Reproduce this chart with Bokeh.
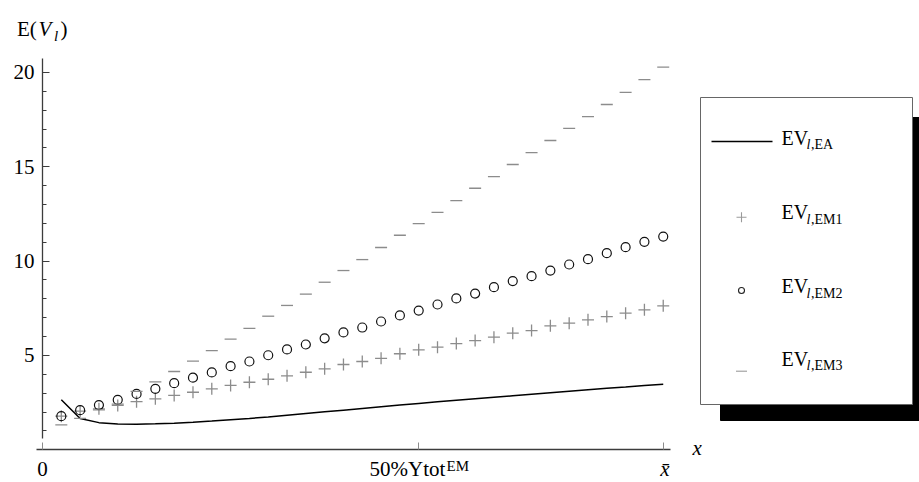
from bokeh.plotting import figure
from bokeh.models import Range1d, LinearAxis, FixedTicker, Label
from bokeh.embed import file_html
from bokeh.resources import INLINE

# ---------------- data ----------------
k = list(range(1, 34))
ev_ea = [2.65, 1.66, 1.44, 1.37, 1.36, 1.38, 1.41, 1.46, 1.52, 1.59, 1.66, 1.74,
         1.83, 1.92, 2.01, 2.10, 2.19, 2.28, 2.37, 2.46, 2.54, 2.62, 2.70, 2.78,
         2.86, 2.94, 3.02, 3.10, 3.18, 3.26, 3.33, 3.41, 3.48]
ev_em1 = [1.78, 2.05, 2.17, 2.35, 2.55, 2.70, 2.88, 3.05, 3.23, 3.41, 3.58, 3.74,
          3.92, 4.11, 4.29, 4.52, 4.68, 4.85, 5.09, 5.30, 5.44, 5.63, 5.79, 5.97,
          6.18, 6.32, 6.57, 6.71, 6.89, 7.06, 7.24, 7.42, 7.63]
ev_em2 = [1.78, 2.10, 2.37, 2.65, 2.96, 3.23, 3.53, 3.82, 4.10, 4.43, 4.68, 5.01,
          5.32, 5.58, 5.91, 6.22, 6.48, 6.80, 7.12, 7.38, 7.70, 8.02, 8.28, 8.62,
          8.94, 9.20, 9.50, 9.82, 10.10, 10.42, 10.74, 11.02, 11.30]
ev_em3 = [1.32, 1.67, 2.12, 2.42, 3.10, 3.60, 4.15, 4.70, 5.26, 5.86, 6.44, 7.08,
          7.65, 8.25, 8.88, 9.50, 10.08, 10.72, 11.37, 11.99, 12.58, 13.21, 13.86, 14.48,
          15.12, 15.75, 16.39, 17.03, 17.66, 18.30, 18.94, 19.62, 20.28]

x_ticks = [0, 20, 33]
x_tick_text = ["0", "50%Ytot", "EM", "x\u0304"]
y_ticks = [5, 10, 15, 20]
y_minor = [1, 2, 3, 4, 6, 7, 8, 9, 11, 12, 13, 14, 16, 17, 18, 19]
legend_subs = ["EA", "EM1", "EM2", "EM3"]

# ---------------- layout helpers (picture px -> data) ----------------
PX0, PXK = 42.0, 18.81
PY0, PYV = 449.3, 18.87
def X(px):
    return (px - PX0) / PXK
def Y(py):
    return (PY0 - py) / PYV

W, H = 919, 482
FONT = "Liberation Serif"
GRAY = "#8c8c8c"
AX = "#3c3c3c"

p = figure(width=W, height=H, output_backend="svg", toolbar_location=None,
           x_range=Range1d(X(0), X(W)), y_range=Range1d(Y(H), Y(0)),
           x_axis_type=None, y_axis_type=None, min_border=0,
           outline_line_color=None, background_fill_color="white",
           border_fill_color="white")

# ---------------- axes ----------------
xaxis = LinearAxis(fixed_location=0, bounds=(X(36), X(670)),
                   ticker=FixedTicker(ticks=x_ticks, minor_ticks=[]),
                   major_label_overrides={0: "", 20: "", 33: ""},
                   axis_line_color=AX, axis_line_width=1.3,
                   major_tick_line_color=GRAY, major_tick_in=7, major_tick_out=0,
                   minor_tick_in=0, minor_tick_out=0,
                   major_label_text_font=FONT, major_label_text_font_size="20px")
p.add_layout(xaxis, "below")

yaxis = LinearAxis(fixed_location=0, bounds=(Y(438), Y(58)),
                   ticker=FixedTicker(ticks=y_ticks, minor_ticks=y_minor),
                   axis_line_color=AX, axis_line_width=1.3,
                   major_tick_line_color=AX, major_tick_in=7, major_tick_out=0,
                   minor_tick_line_color=AX, minor_tick_in=4, minor_tick_out=0,
                   major_label_text_font=FONT, major_label_text_font_size="21px",
                   major_label_text_color="black", major_label_standoff=8)
p.add_layout(yaxis, "left")

def lab(px, py, text, size=21, style="normal", align="left"):
    # py is the wanted baseline; Bokeh draws labels a bit lower, compensate
    p.add_layout(Label(x=X(px), y=Y(py - 0.4 * size), text=text, text_font=FONT,
                       text_font_size=f"{size}px", text_font_style=style,
                       text_align=align, text_baseline="alphabetic",
                       text_color="black"))

# x tick labels (with superscript); kept just inside the bottom edge
lab(42, 477, x_tick_text[0], align="center")
lab(369, 477, x_tick_text[1])
lab(446, 471, x_tick_text[2], size=15)
lab(664.5, 477, x_tick_text[3], style="italic", align="center")
# axis titles
lab(692, 456, "x", style="italic")
lab(16.5, 37.3, "E(")
lab(38, 37.3, "V", style="italic")
lab(53.5, 41, "l", size=15, style="italic")
lab(60, 37.3, ")")

# ---------------- data series ----------------
p.line(k, ev_ea, line_color="black", line_width=1.5)
p.scatter(k, ev_em1, marker="cross", size=12, line_color=GRAY, line_width=1.3)
p.scatter(k, ev_em2, marker="circle", size=9, fill_color=None, line_color="#111111", line_width=1.2)
p.scatter(k, ev_em3, marker="dash", size=12, line_color=GRAY, line_width=1.3)

# ---------------- legend ----------------
p.quad(left=[X(720)], right=[X(925)], top=[Y(117)], bottom=[Y(420)],
       fill_color="black", line_color="black")
p.quad(left=[X(700)], right=[X(912)], top=[Y(97)], bottom=[Y(404)],
       fill_color="white", line_color="#666666", line_width=1)
p.line([X(711), X(772)], [Y(141), Y(141)], line_color="black", line_width=1.5)
p.scatter([X(741)], [Y(216.7)], marker="cross", size=10, line_color="#9a9a9a", line_width=1.1)
p.scatter([X(741)], [Y(290)], marker="circle", size=6, fill_color=None, line_color="#222222", line_width=1.1)
p.scatter([X(741)], [Y(370.7)], marker="dash", size=11, line_color="#9a9a9a", line_width=1.1)

for base, sub in zip([145, 219.3, 293.3, 366], legend_subs):
    lab(781, base, "EV", size=20)
    lab(806, base + 5, "l", size=14, style="italic")
    lab(810.5, base + 5, "," + sub, size=14)

open("out.html", "w").write(file_html(p, INLINE))
